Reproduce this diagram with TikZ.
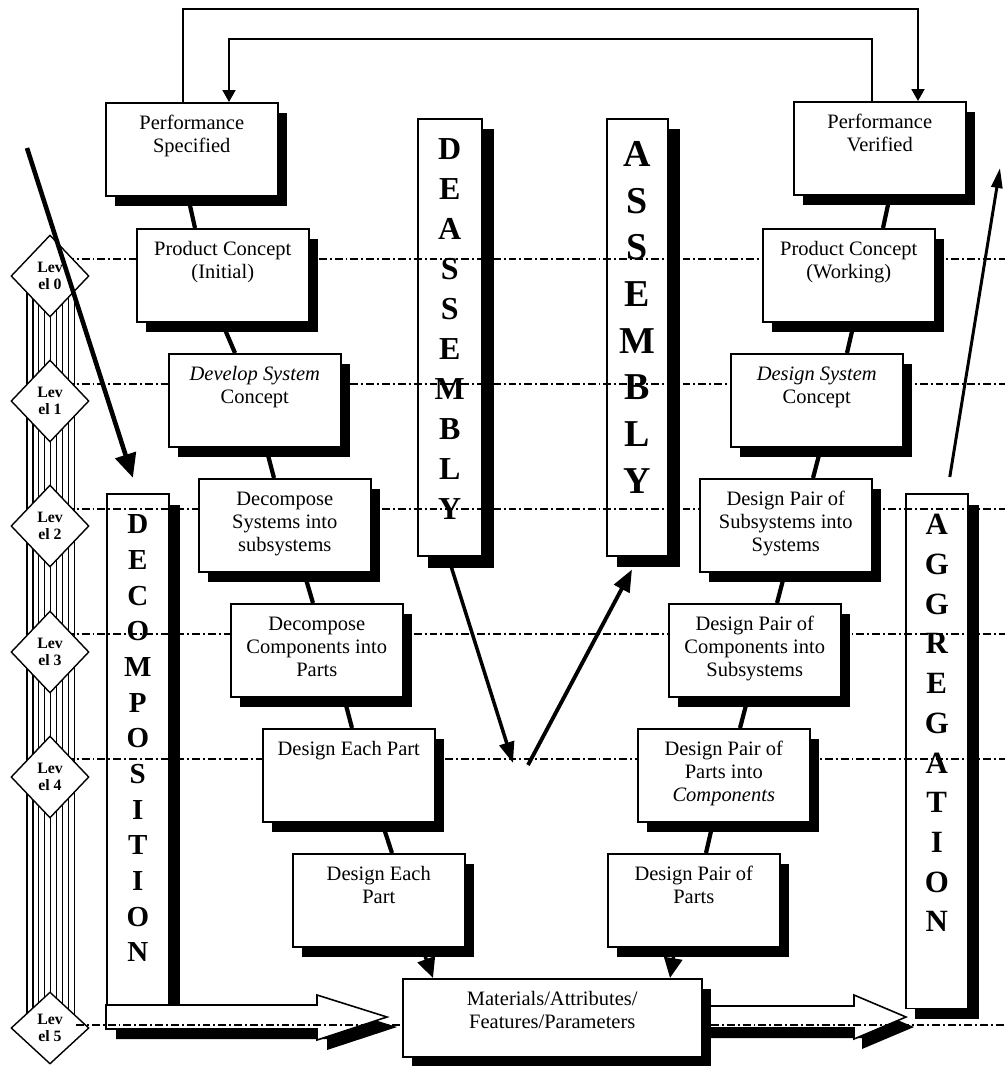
\documentclass[tikz,border=0pt]{standalone}
\usepackage{fontspec}
\setmainfont{Liberation Serif}
\usetikzlibrary{shapes.geometric,shadows,arrows.meta,calc}
\newcommand{\boxtxt}[4]{\parbox[t][#2][t]{#1}{\centering\rule{0pt}{#3}#4}}
\newcommand{\stdtxt}[1]{\boxtxt{3.44cm}{1.86cm}{0.53cm}{#1}}
\begin{document}
\begin{tikzpicture}[x=0.02cm,y=-0.02cm,
  box/.style={draw,line width=0.9pt,fill=white,inner sep=0pt,anchor=north west,
    font=\fontsize{11.66}{13.1}\selectfont,
    drop shadow={shadow xshift=0.18cm,shadow yshift=-0.2cm,fill=black,opacity=1}},
  tall/.style={draw,line width=0.9pt,inner sep=0pt,anchor=north west},
  lev/.style={diamond,draw,line width=0.8pt,fill=white,inner sep=0pt,
    minimum width=1.56cm,minimum height=1.64cm,align=center,
    font=\bfseries\fontsize{9}{9.4}\selectfont},
  lvl/.style={line width=0.6pt,dash pattern=on 4.5pt off 1.7pt on 1.1pt off 1.7pt},
  conn/.style={line width=2.4pt},
  loopline/.style={line width=1.1pt},
  shadowfill/.style={fill=black},
  blockarrow/.style={draw,line width=0.9pt,fill=white}]

\fill[white] (0,0) rectangle (1005,1066);
\useasboundingbox (0,0) rectangle (1005,1066);

% striped level band
\foreach \k in {0,...,8}
  \draw[line width=0.75pt] (27+5.9*\k,276) -- (27+5.9*\k,1028);

% level lines
\foreach \yy in {259,384,509,634,759}
  \draw[lvl] (50,\yy) -- (1005,\yy);

% hollow block arrows (with shadows)
\fill[shadowfill] (116,1015) -- (327,1015) -- (327,1005) -- (397,1027) -- (327,1050) -- (327,1039) -- (116,1039) -- cycle;
\path[blockarrow] (106,1005) -- (317,1005) -- (317,995) -- (387,1017) -- (317,1040) -- (317,1029) -- (106,1029) -- cycle;
\fill[shadowfill] (709,1016) -- (862,1016) -- (862,1005) -- (914,1027) -- (862,1049) -- (862,1038) -- (709,1038) -- cycle;
\path[blockarrow] (701,1006) -- (854,1006) -- (854,995) -- (906,1017) -- (854,1039) -- (854,1028) -- (701,1028) -- cycle;

% diamonds
\node[lev] (l0) at (50,276) {Lev\\el 0};
\node[lev] (l1) at (50,401) {Lev\\el 1};
\node[lev] (l2) at (50,526) {Lev\\el 2};
\node[lev] (l3) at (50,652) {Lev\\el 3};
\node[lev] (l4) at (50,777) {Lev\\el 4};
\node[lev,minimum height=1.44cm] (l5) at (50,1028) {Lev\\el 5};

% level 5 line
\draw[lvl] (76,1025) -- (402,1025);
\draw[lvl] (711,1025) -- (1005,1025);

% regular boxes
\node[box] (ps) at (105,102) {\stdtxt{Performance\\Specified}};
\node[box] (pv) at (793,101) {\stdtxt{Performance\\Verified}};
\node[box] (pci) at (136,228) {\stdtxt{Product Concept\\(Initial)}};
\node[box] (pcw) at (762,228) {\stdtxt{Product Concept\\(Working)}};
\node[box] (dsc) at (168,353) {\stdtxt{\textit{Develop System}\\Concept}};
\node[box] (dsyc) at (730,353) {\stdtxt{\textit{Design System}\\Concept}};
\node[box] (dss) at (198,478) {\stdtxt{Decompose\\Systems into\\subsystems}};
\node[box] (dps) at (699,478) {\stdtxt{Design Pair of\\Subsystems into\\Systems}};
\node[box] (dcp) at (230,603) {\stdtxt{Decompose\\Components into\\Parts}};
\node[box] (dpc) at (668,603) {\stdtxt{Design Pair of\\Components into\\Subsystems}};
\node[box] (dep) at (262,728) {\stdtxt{Design Each Part}};
\node[box] (dppc) at (637,728) {\stdtxt{Design Pair of\\Parts into\\\textit{Components}}};
\node[box] (dep5) at (292,853) {\stdtxt{Design Each\\Part}};
\node[box] (dpp) at (607,853) {\stdtxt{Design Pair of\\Parts}};
\node[box] (mat) at (402,978) {\boxtxt{5.98cm}{1.56cm}{0.54cm}{Materials/Attributes/\\Features/Parameters}};

% tall letter boxes
\node[tall,font=\bfseries\fontsize{18.2}{22.76}\selectfont] (deas) at (417,118)
  {\boxtxt{1.28cm}{8.74cm}{0.81cm}{D\\E\\A\\S\\S\\E\\M\\B\\L\\Y}};
\node[tall,font=\bfseries\fontsize{21.6}{26.6}\selectfont] (asm) at (606,118)
  {\boxtxt{1.22cm}{8.74cm}{0.95cm}{A\\S\\S\\E\\M\\B\\L\\Y}};
\node[tall,font=\bfseries\fontsize{16.5}{20.3}\selectfont] (decomp) at (106,493)
  {\boxtxt{1.24cm}{10.24cm}{0.8cm}{D\\E\\C\\O\\M\\P\\O\\S\\I\\T\\I\\O\\N}};
\node[tall,font=\bfseries\fontsize{17.6}{22.6}\selectfont] (agg) at (905,493)
  {\boxtxt{1.24cm}{10.3cm}{0.82cm}{A\\G\\G\\R\\E\\G\\A\\T\\I\\O\\N}};

% shadows of tall boxes
\fill[shadowfill] ($(deas.north east)+(0,11)$) rectangle ($(deas.south east)+(11,11)$);
\fill[shadowfill] ($(deas.south west)+(11,0)$) rectangle ($(deas.south east)+(11,11)$);
\fill[shadowfill] ($(asm.north east)+(0,11)$) rectangle ($(asm.south east)+(11,10)$);
\fill[shadowfill] ($(asm.south west)+(11,0)$) rectangle ($(asm.south east)+(11,10)$);
\fill[shadowfill] ($(decomp.north east)+(0,12)$) rectangle ($(decomp.south east)+(10,0)$);
\fill[shadowfill] ($(agg.north east)+(0,12)$) rectangle ($(agg.south east)+(10,10)$);
\fill[shadowfill] ($(agg.south west)+(10,0)$) rectangle ($(agg.south east)+(10,10)$);

% connectors, left chain
\draw[conn] ($(ps.south west)+(83,0)$) -- ($(pci.north west)+(59,0)$);
\draw[conn] ($(pci.south west)+(86,0)$) -- ($(dsc.north west)+(67,0)$);
\draw[conn] ($(dsc.south west)+(98,0)$) -- ($(dss.north west)+(76,0)$);
\draw[conn] ($(dss.south west)+(106,0)$) -- ($(dcp.north west)+(83,0)$);
\draw[conn] ($(dcp.south west)+(114,0)$) -- ($(dep.north west)+(90,0)$);
\draw[conn] ($(dep.south west)+(120,0)$) -- ($(dep5.north west)+(100,0)$);
\draw[line width=2pt,-{Triangle[length=0.4cm,width=0.36cm]}]
  ($(dep5.south west)+(130,0)$) -- ($(mat.north west)+(31,0)$);

% connectors, right chain
\draw[conn] ($(pv.south west)+(97,0)$) -- ($(pcw.north west)+(121,0)$);
\draw[conn] ($(pcw.south west)+(92,0)$) -- ($(dsyc.north west)+(117,0)$);
\draw[conn] ($(dsyc.south west)+(91,0)$) -- ($(dps.north west)+(114,0)$);
\draw[conn] ($(dps.south west)+(86,0)$) -- ($(dpc.north west)+(109,0)$);
\draw[conn] ($(dpc.south west)+(80,0)$) -- ($(dppc.north west)+(103,0)$);
\draw[conn] ($(dppc.south west)+(76,0)$) -- ($(dpp.north west)+(99,0)$);
\draw[line width=2pt,-{Triangle[length=0.4cm,width=0.36cm]}]
  ($(dpp.south west)+(68,0)$) -- ($(mat.north west)+(268,0)$);

% top feedback loops
\draw[loopline,-{Triangle[length=0.24cm,width=0.26cm]}]
  ($(ps.north west)+(78,0)$) -- ++(0,-93) -| ($(pv.north west)+(125,0)$);
\draw[loopline,-{Triangle[length=0.24cm,width=0.26cm]}]
  ($(pv.north west)+(79,0)$) -- ++(0,-62) -| ($(ps.north west)+(124,0)$);

% middle arrows
\coordinate (m1) at (513,763);
\coordinate (m2) at (528,765);
\draw[line width=2pt,-{Triangle[length=0.42cm,width=0.3cm]}]
  ($(deas.south west)+(31,0)$) -- (m1);
\draw[line width=2.2pt,-{Triangle[length=0.44cm,width=0.34cm]}]
  (m2) -- ($(asm.south west)+(26,13)$);

% big diagonal arrows
\coordinate (ls) at (27,148);
\coordinate (rs) at (1000,168);
\draw[line width=2.6pt,-{Triangle[length=0.48cm,width=0.42cm]},shorten >=0.32cm]
  (ls) -- (decomp.north);
\draw[line width=1.7pt,-{Triangle[length=0.4cm,width=0.22cm]}]
  ($(agg.north)+(13,-16)$) -- (rs);
\end{tikzpicture}
\end{document}
